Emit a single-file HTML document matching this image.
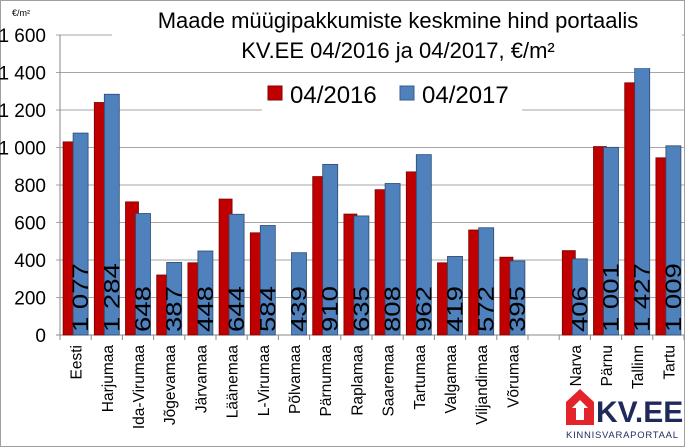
<!DOCTYPE html>
<html><head><meta charset="utf-8"><style>
body{margin:0;background:#fff}
svg{display:block;font-family:"Liberation Sans",sans-serif}
</style></head><body>
<svg id="c" width="685" height="447">
<rect x="0.5" y="0.5" width="684" height="446" fill="#fff" stroke="#a0a0a0"/>
<g id="grid"></g><g id="bars"></g><g id="labels"></g>
<text x="12" y="16" font-size="9">€/m²</text>
<rect x="112" y="6" width="570" height="62" fill="#fff"/>
<text x="398" y="28" font-size="22" text-anchor="middle">Maade müügipakkumiste keskmine hind portaalis</text>
<text x="398" y="58" font-size="22" text-anchor="middle">KV.EE 04/2016 ja 04/2017, €/m²</text>
<g>
<rect x="262" y="78" width="260" height="34" fill="#fff"/>
<rect x="268" y="86" width="14" height="14" fill="#c00000" stroke="#800"/>
<text x="290" y="103" font-size="24">04/2016</text>
<rect x="400" y="86" width="14" height="14" fill="#4f81bd" stroke="#385d8a"/>
<text x="422" y="103" font-size="24">04/2017</text>
</g>
<g>
<path d="M566 425 L566 402 L580 389 L594 402 L594 425 Z" fill="#e3242b"/>
<path d="M576 420 L576 408 L572 408 L580 400 L588 408 L584 408 L584 420 Z" fill="#fff"/>
<text x="596" y="422" font-size="30" font-weight="bold" fill="#1f2a5a">KV.EE</text>
<text x="566" y="438" font-size="9.5" fill="#1f2a5a" textLength="112">KINNISVARAPORTAAL</text>
</g>
</svg>
<script>
const categories=["Eesti","Harjumaa","Ida-Virumaa","Jõgevamaa","Järvamaa","Läänemaa","L-Virumaa","Põlvamaa","Pärnumaa","Raplamaa","Saaremaa","Tartumaa","Valgamaa","Viljandimaa","Võrumaa","","Narva","Pärnu","Tallinn","Tartu"];
const values2016=[1030,1240,710,320,385,725,545,null,845,645,775,870,385,560,415,null,450,1005,1345,945];
const values2017=[1077,1284,648,387,448,644,584,439,910,635,808,962,419,572,395,null,406,1001,1427,1009];
const valueLabels=["1 077","1 284","648","387","448","644","584","439","910","635","808","962","419","572","395","","406","1 001","1 427","1 009"];
const yTicks=[0,200,400,600,800,1000,1200,1400,1600];
const yTickLabels=["0","200","400","600","800","1 000","1 200","1 400","1 600"];
const NS="http://www.w3.org/2000/svg";
const X0=60,X1=684,Y0=335,Y1=35,YMAX=1600;
const slot=(X1-X0)/categories.length;
const y=v=>Y0-(v/YMAX)*(Y0-Y1);
const xc=i=>X0+slot*(i+0.5);
function mk(t,a,p){const e=document.createElementNS(NS,t);for(const k in a)e.setAttribute(k,a[k]);p.appendChild(e);return e;}
const grid=document.getElementById('grid'),bars=document.getElementById('bars'),labels=document.getElementById('labels');
yTicks.forEach((t,i)=>{
 const l=mk('line',{x1:X0-4,x2:X1,y1:y(t),y2:y(t),stroke:i==0?'#888':'#a6a6a6','stroke-width':1},grid);
 
 
 const tx=mk('text',{x:46,y:y(t)+7,'font-size':19,'text-anchor':'end'},grid);
 tx.textContent=yTickLabels[i];
 
 
});
const ax=mk('line',{x1:X0,x2:X0,y1:Y1,y2:Y0,stroke:'#888'},grid);


for(let i=0;i<=categories.length;i++){
 const tk=mk('line',{x1:X0+slot*i,x2:X0+slot*i,y1:Y0,y2:Y0+5,stroke:'#888'},grid);
 
 
}
categories.forEach((c,i)=>{
 const cx=xc(i);
 if(values2016[i]!=null){
  const r=mk('rect',{x:cx-12.5,y:y(values2016[i]),width:13,height:Y0-y(values2016[i]),fill:'#c00000',stroke:'#7a0000','stroke-width':0.8},bars);
  
  
 }
 if(values2017[i]!=null){
  const r=mk('rect',{x:cx-2.5,y:y(values2017[i]),width:15,height:Y0-y(values2017[i]),fill:'#4f81bd',stroke:'#2c4a70','stroke-width':0.8},bars);
  
  
  const t=mk('text',{transform:`translate(${cx+12.5},${Y0-3}) rotate(-90) scale(1.25,1)`,'font-size':22,fill:'#000'},labels);
  t.textContent=valueLabels[i];
  
  
 }
 if(c){
  const t=mk('text',{transform:`translate(${cx+6},${Y0+10}) rotate(-90)`,'font-size':15.5,'text-anchor':'end'},labels);
  t.textContent=c;
  
  
 }
});
</script>
</body></html>
